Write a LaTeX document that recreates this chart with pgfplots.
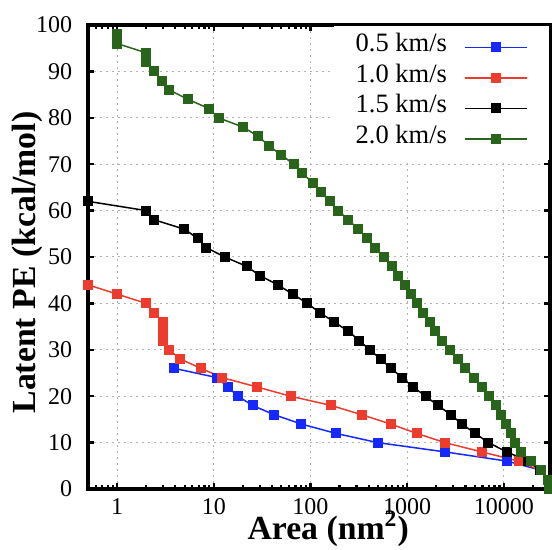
\documentclass[border=0pt]{standalone}
\usepackage{pgfplots}
\pgfplotsset{compat=1.18}
\usepackage{fontspec}
\setmainfont{Liberation Serif}
\definecolor{cblue}{RGB}{20,40,255}
\definecolor{cred}{RGB}{235,60,45}
\definecolor{cgreen}{RGB}{40,100,25}
\begin{document}
\begin{tikzpicture}
\path[use as bounding box] (-35.2pt,-24.4pt) rectangle (185.6pt,195.6pt);
\begin{axis}[
  at={(0,0)}, anchor=south west,
  scale only axis, width=184.8pt, height=185.6pt,
  xmode=log, log basis x=10,
  xmin=0.5, xmax=30000, ymin=0, ymax=100,
  xtick={1,10,100,1000,10000}, xticklabels={1,10,100,1000,10000},
  minor xtick={0.6,0.7,0.8,0.9,2,3,4,5,6,7,8,9,20,30,40,50,60,70,80,90,200,300,400,500,600,700,800,900,2000,3000,4000,5000,6000,7000,8000,9000,20000},
  ytick={0,10,20,30,40,50,60,70,80,90,100},
  xtick pos=both, ytick pos=both, tick align=inside,
  major tick length=2.4pt, minor tick length=1.4pt,
  tick style={black, line width=0.9pt},
  axis line style={line width=1.3pt},
  grid=major,
  major grid style={gray!60, line width=0.4pt, dash pattern=on 0.8pt off 1.6pt},
  /pgf/number format/assume math mode=true,
  tick label style={font=\fontsize{9.6}{11}\selectfont},
  xticklabel style={inner sep=0pt, yshift=-3.6pt},
  yticklabel style={inner sep=0pt, xshift=-6.1pt},
  label style={font=\fontsize{13.5}{16}\selectfont\bfseries},
  xlabel={Area (nm\textsuperscript{2})},
  ylabel={Latent PE (kcal/mol)},
  xlabel style={at={(axis description cs:0.52,-0.108)}, anchor=base},
  ylabel style={at={(axis description cs:-0.1147,0.488)}, anchor=base},
  legend style={at={(1,1)}, anchor=north east, draw=none, fill=white,
    inner xsep=8.8pt, inner ysep=2.6pt, font=\fontsize{10.6}{12}\selectfont,
    nodes={inner sep=0pt, text height=7.8pt, text depth=4.4pt},
    /tikz/column sep=6.8pt, row sep=0pt},
  legend cell align=right, legend plot pos=right,
  legend image code/.code={\draw[mark repeat=2,mark phase=2,#1] plot coordinates {(0pt,0pt) (12.4pt,0pt) (24.8pt,0pt)};},
  every axis plot/.append style={line width=0.6pt, mark=square*, mark size=1.7pt, mark options={solid}},
]
\addplot[color=cblue] coordinates {
(3.9,26)(10.8,24)(13.9,22)(17.8,20)(25.2,18)(42.3,16)(80.4,14)(182,12)(494,10)(2450,8)(10850,6)(24500,4)};
\addlegendentry{0.5 km/s}
\addplot[color=cred] coordinates {
(0.5,44)(1,42)(2,40)(2.43,38)(2.95,36)(2.95,34)(2.95,32)(3.46,30)(4.5,28)(7.39,26)(12.2,24)(27.9,22)(62.2,20)(164,18)(340,16)(675,14)(1250,12)(2450,10)(5910,8)(14230,6)(23560,4)};
\addlegendentry{1.0 km/s}
\addplot[color=black] coordinates {
(0.5,62)(2,60)(2.43,58)(4.96,56)(6.83,54)(8.4,52)(13,50)(21.8,48)(30,46)(45.8,44)(65.7,42)(92.9,40)(125,38)(176,36)(246,34)(320,32)(408,30)(535,28)(681,26)(887,24)(1154,22)(1552,20)(2085,18)(2830,16)(3683,14)(5030,12)(6920,10)(10700,8)(17900,6)(23700,4)};
\addlegendentry{1.5 km/s}
\addplot[color=cgreen] coordinates {
(1,98)(1,96)(2,94)(2,92)(2.41,90)(2.92,88)(3.46,86)(5.37,84)(8.89,82)(11.2,80)(20,78)(29,76)(36.9,74)(50,72)(66.8,70)(82.3,68)(106,66)(129,64)(158,62)(194,60)(246,58)(313,56)(383,54)(467,52)(570,50)(697,48)(798,46)(944,44)(1101,42)(1271,40)(1455,38)(1710,36)(1941,34)(2279,32)(2761,30)(3320,28)(3990,26)(4950,24)(5910,22)(7000,20)(8200,18)(9300,16)(10500,14)(11800,12)(13000,10)(15000,8)(19000,6)(24500,4)(28500,2)(29000,0)};
\addlegendentry{2.0 km/s}
\end{axis}
\end{tikzpicture}
\end{document}
